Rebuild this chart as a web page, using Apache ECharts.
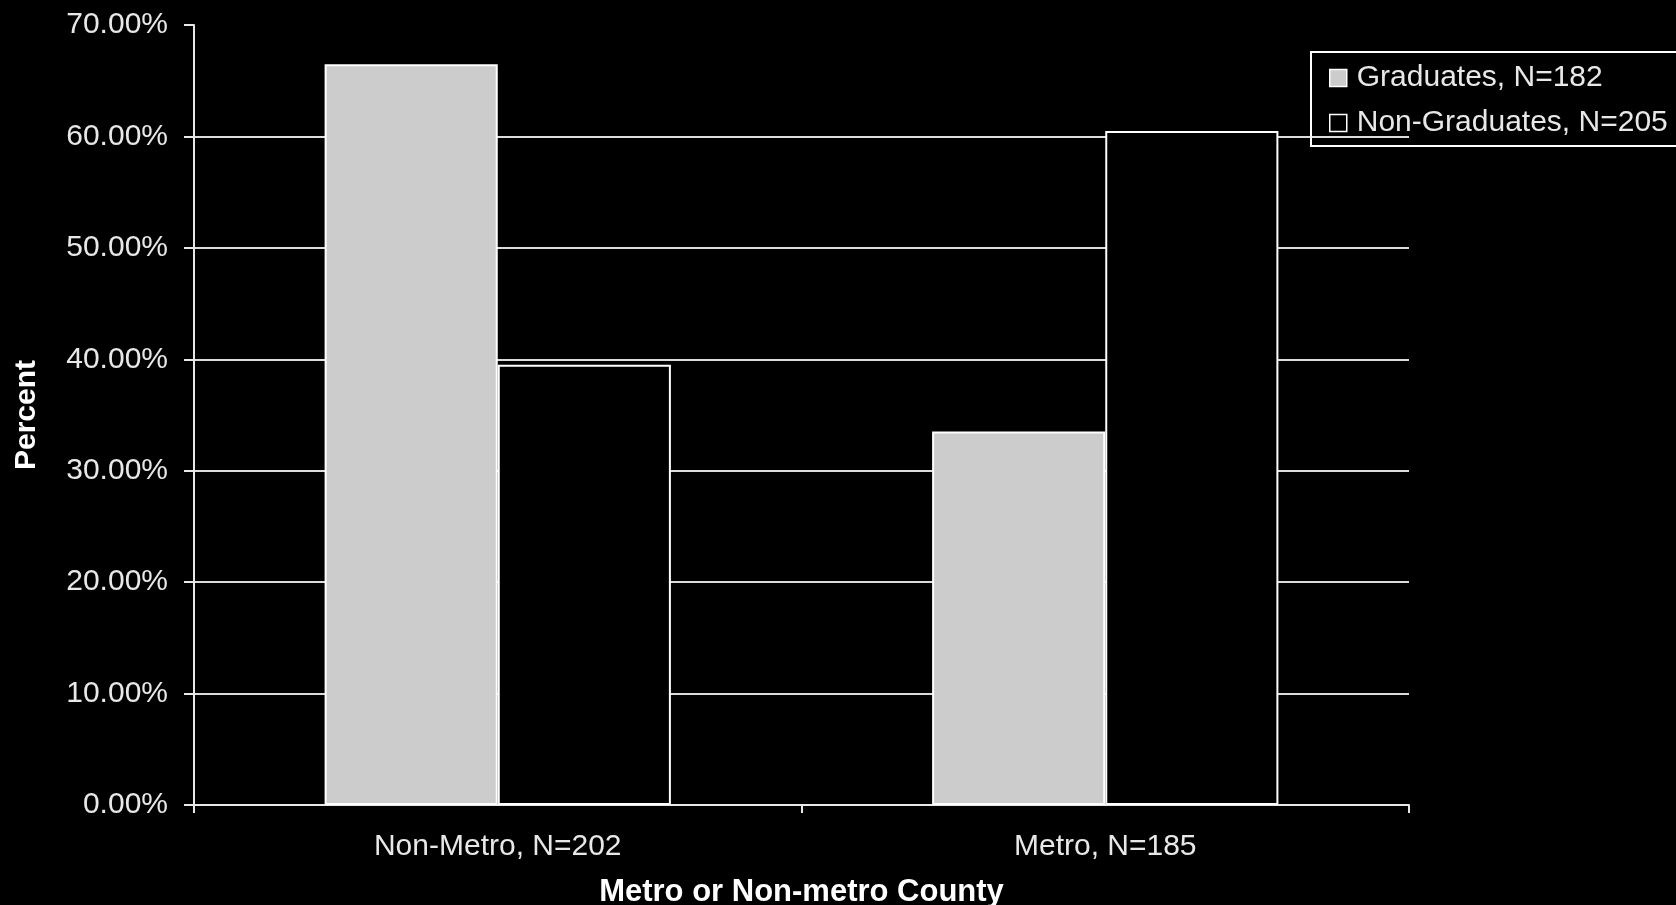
<!DOCTYPE html>
<html>
<head>
<meta charset="utf-8">
<style>
  html, body { margin: 0; padding: 0; background: #000; }
  #chart { width: 1676px; height: 905px; }
</style>
<script src="https://cdn.jsdelivr.net/npm/echarts@6/dist/echarts.min.js"></script>
</head>
<body>
<div id="chart"></div>
<script>
// County type categories along the x axis
const categories = ['Non-Metro, N=202', 'Metro, N=185'];
// Percent of each group living in each county type
const graduates = [66.48, 33.52];      // Graduates, N=182
const nonGraduates = [39.51, 60.49];   // Non-Graduates, N=205
const seriesNames = ['Graduates, N=182', 'Non-Graduates, N=205'];
const yTicks = [0, 10, 20, 30, 40, 50, 60, 70];

const FONT = '"Liberation Sans", Arial, sans-serif';
const chart = echarts.init(document.getElementById('chart'));

chart.setOption({
  backgroundColor: '#000000',
  animation: false,
  grid: { left: 194, right: 267, top: 25, bottom: 100, containLabel: false, outerBoundsMode: 'none' },
  legend: {
    orient: 'vertical',
    left: 1311,
    top: 52,
    padding: [11, 30, 8, 18],
    itemGap: 15,
    itemWidth: 17,
    itemHeight: 17,
    icon: 'rect',
    borderColor: '#ffffff',
    borderWidth: 2,
    borderRadius: 0,
    textStyle: {
      color: '#e8e8e8', fontFamily: FONT, fontSize: 30, lineHeight: 30,
      padding: [0, 0, 0, 5]
    },
    itemStyle: { borderColor: '#ffffff', borderWidth: 1.5 },
    data: seriesNames
  },
  xAxis: {
    type: 'category',
    data: categories,
    name: 'Metro or Non-metro County',
    nameLocation: 'middle',
    nameGap: 72,
    nameTextStyle: { color: '#ffffff', fontFamily: FONT, fontSize: 31, fontWeight: 'bold' },
    axisLine: { lineStyle: { color: '#e8e8e8', width: 2 } },
    axisTick: { show: true, length: 8, lineStyle: { color: '#e8e8e8', width: 2 } },
    axisLabel: { color: '#e8e8e8', fontFamily: FONT, fontSize: 30, margin: 27 },
    splitLine: { show: false }
  },
  yAxis: {
    type: 'value',
    min: yTicks[0],
    max: yTicks[yTicks.length - 1],
    interval: 10,
    name: 'Percent',
    nameLocation: 'middle',
    nameGap: 152,
    nameRotate: 90,
    nameTextStyle: { color: '#ffffff', fontFamily: FONT, fontSize: 30, fontWeight: 'bold' },
    axisLine: { show: true, lineStyle: { color: '#e8e8e8', width: 2 } },
    axisTick: { show: true, length: 10, lineStyle: { color: '#e8e8e8', width: 2 } },
    axisLabel: {
      color: '#e8e8e8', fontFamily: FONT, fontSize: 30, margin: 26,
      formatter: v => v.toFixed(2) + '%'
    },
    splitLine: { show: true, showMaxLine: false, lineStyle: { color: '#dcdcdc', width: 2 } }
  },
  series: [
    {
      name: seriesNames[0],
      type: 'bar',
      data: graduates,
      barGap: '0%',
      barCategoryGap: '43%',
      itemStyle: { color: '#cccccc', borderColor: '#ffffff', borderWidth: 2 }
    },
    {
      name: seriesNames[1],
      type: 'bar',
      data: nonGraduates,
      barGap: '0%',
      barCategoryGap: '43%',
      itemStyle: { color: '#000000', borderColor: '#ffffff', borderWidth: 2 }
    }
  ]
});
</script>
</body>
</html>
